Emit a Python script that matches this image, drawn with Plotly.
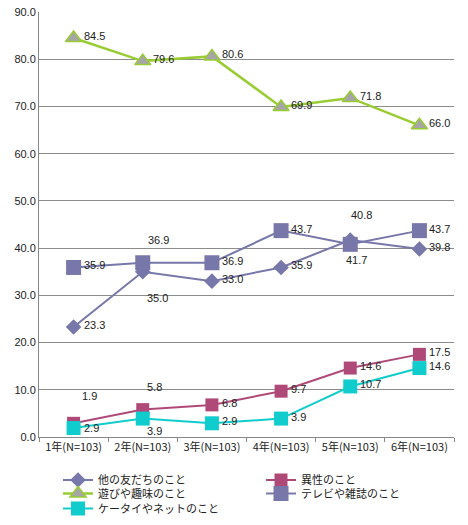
import plotly.graph_objects as go

categories = ["1年(N=103)", "2年(N=103)", "3年(N=103)", "4年(N=103)", "5年(N=103)", "6年(N=103)"]
other_friends = [23.3, 35.0, 33.0, 35.9, 41.7, 39.8]
opposite_sex = [2.9, 5.8, 6.8, 9.7, 14.6, 17.5]
play_hobby = [84.5, 79.6, 80.6, 69.9, 71.8, 66.0]
tv_magazine = [35.9, 36.9, 36.9, 43.7, 40.8, 43.7]
mobile_net = [1.9, 3.9, 2.9, 3.9, 10.7, 14.6]
y_ticks = [0, 10, 20, 30, 40, 50, 60, 70, 80, 90]

NUM_FONT = "Liberation Sans, Arial, Noto Sans CJK JP"
JP_FONT = "Noto Sans CJK JP, Liberation Sans"
TEXT_COLOR = "#222222"

# the page body has an 8px default margin, so the figure is 8px smaller each way
W, H = 460, 517

series = [
    dict(name="他の友だちのこと", values=other_friends, color="#7777AA",
         marker=dict(symbol="diamond", size=12, color="#7777AA"), width=2, lpos=(0, 0)),
    dict(name="異性のこと", values=opposite_sex, color="#AF4A78",
         marker=dict(symbol="square", size=13, color="#AF4A78"), width=2, lpos=(1, 0)),
    dict(name="遊びや趣味のこと", values=play_hobby, color="#99CC33",
         marker=dict(symbol="triangle-up", size=14, color="#A6A6A6",
                     line=dict(color="#99CC33", width=1.5)), width=2.5, lpos=(0, 1)),
    dict(name="テレビや雑誌のこと", values=tv_magazine, color="#7777AA",
         marker=dict(symbol="square", size=15, color="#7777AA"), width=2, lpos=(1, 1)),
    dict(name="ケータイやネットのこと", values=mobile_net, color="#11CCCC",
         marker=dict(symbol="square", size=14, color="#11CCCC"), width=2, lpos=(0, 2)),
]

# label offsets (pixels): (dx, dy_down) centred; otherwise default right-of-marker
label_offsets = {
    ("他の友だちのこと", 1): (15, 26),
    ("他の友だちのこと", 4): (6, 20),
    ("テレビや雑誌のこと", 1): (16, -23),
    ("テレビや雑誌のこと", 4): (11, -29),
    ("異性のこと", 1): (12, -23),
    ("ケータイやネットのこと", 0): (16, -32),
    ("ケータイやネットのこと", 1): (12, 12),
}
right_down = {("異性のこと", 0): 5}

legend_col_x = [50, 253]
legend_row_y = [472, 485.5, 500.5]

fig = go.Figure()
annotations = []
legends = {}
for k, s in enumerate(series):
    lname = "legend" if k == 0 else f"legend{k + 1}"
    col, row = s["lpos"]
    legends[lname] = dict(
        orientation="v", xref="container", yref="container", xanchor="left", yanchor="middle",
        x=legend_col_x[col] / W, y=1 - legend_row_y[row] / H,
        bgcolor="rgba(0,0,0,0)", borderwidth=0,
        font=dict(family=JP_FONT, size=11, color=TEXT_COLOR), itemwidth=30,
    )
    fig.add_trace(go.Scatter(
        x=categories, y=s["values"], name=s["name"], mode="lines+markers",
        line=dict(color=s["color"], width=s["width"]),
        marker=s["marker"], legend=lname, hoverinfo="skip", cliponaxis=False,
    ))
    for i, v in enumerate(s["values"]):
        key = (s["name"], i)
        if key in label_offsets:
            dx, dy = label_offsets[key]
            annotations.append(dict(x=categories[i], y=v, text=f"{v:.1f}", showarrow=False,
                                    xanchor="center", yanchor="middle", xshift=dx, yshift=-dy,
                                    font=dict(family=NUM_FONT, size=11, color=TEXT_COLOR)))
        else:
            dy = right_down.get(key, -2)
            annotations.append(dict(x=categories[i], y=v, text=f"{v:.1f}", showarrow=False,
                                    xanchor="left", yanchor="middle", xshift=8, yshift=-dy,
                                    font=dict(family=NUM_FONT, size=11, color=TEXT_COLOR)))

fig.update_layout(
    width=W, height=H,
    margin=dict(l=31, r=14, t=4, b=88, autoexpand=False),
    paper_bgcolor="white", plot_bgcolor="white",
    showlegend=True,
    annotations=annotations,
    xaxis=dict(type="category", range=[-0.5, 5.5], tickson="boundaries", ticks="outside",
               ticklen=4, tickcolor="#888888", showline=True, linecolor="#888888", linewidth=1,
               showgrid=False, tickfont=dict(family=JP_FONT, size=11, color=TEXT_COLOR),
               fixedrange=True, automargin=False),
    yaxis=dict(range=[0, 90], tickvals=y_ticks, tickformat=".1f", showgrid=True,
               gridcolor="#8C8C8C", gridwidth=1, showline=True, linecolor="#888888",
               linewidth=1, ticks="", zeroline=False, ticklabeloverflow="allow",
               tickfont=dict(family=NUM_FONT, size=11, color=TEXT_COLOR), fixedrange=True,
               automargin=False),
    **legends,
)

fig.write_html("out.html")
